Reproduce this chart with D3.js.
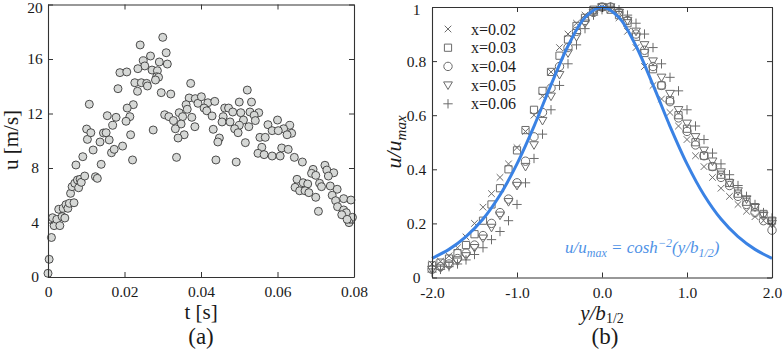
<!DOCTYPE html>
<html>
<head>
<meta charset="utf-8">
<script src="https://cdn.jsdelivr.net/npm/d3@7"></script>
<style>
  body { margin: 0; background: #fff; }
  text { font-family: 'Liberation Serif', 'DejaVu Serif', serif; fill: #1a1a1a; }
</style>
</head>
<body>
<svg id="chart" width="783" height="351"></svg>
<script>
// ---- panel (a): velocity samples [t (s), u (m/s)] ----
const velocitySamples = [
  [0.0000,0.27],[0.0003,1.3],[0.0009,2.9],[0.0012,4.35],[0.0016,3.77],[0.0023,4.23],[0.0028,4.97],
  [0.0031,3.77],[0.0037,4.43],[0.0040,5.04],[0.0044,4.33],[0.0047,5.31],[0.0052,5.04],[0.0056,5.41],
  [0.0059,6.14],[0.0063,6.63],[0.0068,5.45],[0.0070,6.88],[0.0073,8.22],[0.0077,7.12],[0.0080,6.55],
  [0.0084,7.17],[0.0087,6.95],[0.0091,8.83],[0.0096,7.41],[0.0101,10.86],[0.0103,10.1],[0.0108,12.68],
  [0.0112,10.59],[0.0118,9.32],[0.0124,7.36],[0.0129,7.24],[0.0136,9.91],[0.0139,8.27],[0.0145,10.57],
  [0.0152,10.59],[0.0155,11.84],[0.0160,10.06],[0.0166,9.12],[0.0169,11.13],[0.0173,9.37],[0.0178,11.72],
  [0.0183,13.82],[0.0188,15.0],[0.0195,9.61],
  [0.0300,17.59],[0.0241,17.03],[0.0309,16.46],[0.0268,16.22],[0.0249,15.87],[0.0291,15.78],[0.0312,15.63],
  [0.0253,15.49],[0.0235,15.29],[0.0272,15.19],[0.0286,15.14],[0.0206,15.05],[0.0284,14.7],[0.0289,14.66],
  [0.0281,14.46],[0.0227,14.26],[0.0244,14.26],[0.0258,14.21],[0.0260,14.02],[0.0234,13.63],[0.0296,13.53],
  [0.0321,13.43],[0.0373,14.21],[0.0369,13.14],[0.0385,13.09],[0.0361,12.65],[0.0392,12.75],[0.0223,12.65],
  [0.0207,12.4],[0.0214,11.77],[0.0204,11.43],[0.0305,11.91],[0.0343,12.06],[0.0316,11.77],[0.0352,11.77],
  [0.0364,12.31],[0.0328,11.48],[0.0376,11.72],[0.0348,11.23],[0.0333,10.88],[0.0384,11.03],[0.0275,10.79],
  [0.0216,10.44],[0.0356,10.44],[0.0340,10.2],[0.0221,8.59],[0.0336,8.78],
  [0.0521,13.72],[0.0401,13.23],[0.0500,12.84],[0.0532,12.84],[0.0418,12.79],[0.0436,12.89],[0.0408,12.40],
  [0.0462,12.40],[0.0472,12.40],[0.0415,12.2],[0.0483,12.11],[0.0504,12.06],[0.0528,12.11],[0.0551,12.06],
  [0.0429,11.82],[0.0539,11.87],[0.0458,11.77],[0.0511,11.52],[0.0542,11.48],[0.0455,11.38],[0.0476,11.38],
  [0.0525,11.03],[0.0500,11.13],[0.0488,10.88],[0.0575,11.18],[0.0586,10.74],[0.0432,10.84],[0.0497,10.59],
  [0.0554,10.25],[0.0568,10.25],[0.0448,10.2],[0.0444,9.91],[0.0516,9.86],[0.0559,9.52],[0.0549,9.08],
  [0.0565,8.98],[0.0586,8.88],[0.0439,8.59],[0.0492,8.44],
  [0.0600,11.52],[0.0632,11.13],[0.0616,10.88],[0.0602,10.74],[0.0637,10.55],[0.0625,10.44],[0.0611,9.47],
  [0.0628,9.37],[0.0607,8.88],[0.0644,8.78],[0.0665,8.44],[0.0724,8.2],[0.0693,7.9],[0.0729,7.85],
  [0.0747,7.65],[0.0689,7.61],[0.0700,7.46],[0.0733,7.41],[0.0651,7.17],[0.0667,6.92],[0.0679,6.83],
  [0.0710,6.88],[0.0715,6.63],[0.0738,6.68],[0.0646,6.58],[0.0658,6.33],[0.0672,6.33],[0.0682,6.19],
  [0.0756,6.44],[0.0743,6.0],[0.0700,5.85],[0.0773,5.75],[0.0792,5.65],[0.0752,5.6],[0.0757,5.16],
  [0.0707,4.82],[0.0773,4.92],[0.0780,4.72],[0.0768,4.57],[0.0796,4.38],[0.0787,3.99],[0.0782,4.23]
];
const timeTicks = [0, 0.02, 0.04, 0.06, 0.08];
const timeTickLabels = ['0', '0.02', '0.04', '0.06', '0.08'];
const speedTicks = [0, 4, 8, 12, 16, 20];

// ---- panel (b): normalised profiles ----
const etaGrid = [-2.0,-1.9,-1.8,-1.7,-1.6,-1.5,-1.4,-1.3,-1.2,-1.1,-1.0,-0.9,-0.8,-0.7,-0.6,-0.5,-0.4,-0.3,-0.2,-0.1,
  0.0,0.1,0.2,0.3,0.4,0.5,0.6,0.7,0.8,0.9,1.0,1.1,1.2,1.3,1.4,1.5,1.6,1.7,1.8,1.9,2.0];
const profileX002 = [0.05,0.06,0.08,0.11,0.15,0.20,0.26,0.31,0.37,0.42,0.48,0.54,0.60,0.67,0.76,0.85,0.90,0.94,0.97,0.99,
  1.00,0.99,0.96,0.91,0.85,0.78,0.71,0.66,0.61,0.56,0.51,0.45,0.41,0.37,0.33,0.30,0.27,0.245,0.225,0.21,0.20];
const profileX003 = [0.045,0.055,0.07,0.09,0.12,0.16,0.21,0.27,0.33,0.40,0.47,0.545,0.62,0.69,0.76,0.82,0.88,0.93,0.96,0.99,
  1.00,0.99,0.97,0.94,0.89,0.83,0.77,0.71,0.655,0.60,0.55,0.50,0.45,0.41,0.38,0.35,0.31,0.28,0.26,0.235,0.21];
const profileX004 = [0.03,0.04,0.05,0.07,0.09,0.12,0.155,0.20,0.24,0.29,0.35,0.43,0.52,0.61,0.70,0.78,0.85,0.91,0.95,0.98,
  1.00,1.00,0.98,0.95,0.90,0.84,0.78,0.71,0.65,0.59,0.54,0.49,0.45,0.41,0.37,0.34,0.30,0.27,0.24,0.21,0.175];
const profileX005 = [0.03,0.035,0.045,0.06,0.08,0.11,0.145,0.185,0.23,0.28,0.34,0.41,0.49,0.58,0.67,0.75,0.83,0.89,0.94,0.98,
  1.00,1.00,0.98,0.95,0.91,0.86,0.80,0.74,0.68,0.62,0.57,0.52,0.47,0.43,0.39,0.35,0.32,0.29,0.26,0.23,0.20];
const profileX006 = [0.02,0.03,0.04,0.05,0.065,0.085,0.11,0.14,0.17,0.21,0.27,0.35,0.44,0.53,0.62,0.71,0.79,0.86,0.92,0.97,
  0.99,1.00,0.99,0.97,0.94,0.90,0.85,0.79,0.74,0.69,0.62,0.56,0.51,0.46,0.42,0.38,0.34,0.30,0.27,0.24,0.22];
const seriesNames = ['x=0.02', 'x=0.03', 'x=0.04', 'x=0.05', 'x=0.06'];
const seriesMarkers = ['times', 'square', 'circle', 'triangleDown', 'plus'];

// cosh^-2 reference curve
const fitEta = [-2.0,-1.8,-1.6,-1.4,-1.2,-1.0,-0.8,-0.6,-0.4,-0.2,0.0,0.2,0.4,0.6,0.8,1.0,1.2,1.4,1.6,1.8,2.0];
const fitValue = [0.071,0.104,0.151,0.216,0.305,0.420,0.559,0.712,0.856,0.961,1.0,
  0.961,0.856,0.712,0.559,0.420,0.305,0.216,0.151,0.104,0.071];

const etaTicks = [-2, -1, 0, 1, 2];
const etaTickLabels = ['-2.0', '-1.0', '0.0', '1.0', '2.0'];
const ratioTicks = [0, 0.2, 0.4, 0.6, 0.8, 1];
const ratioTickLabels = ['0', '0.2', '0.4', '0.6', '0.8', '1'];

const svg = d3.select('#chart');
const axisColor = '#333';
const tickFont = '15.5px';

// draws a boxed frame with inward ticks on all four sides;
// y tick labels are centred in a column at labelX
function drawFrame(x, y, xTicks, xLabels, yTicks, yLabels, labelX) {
  const [x0, x1] = x.range();
  const [y0, y1] = y.range();
  const g = svg.append('g');

  g.append('g')
    .attr('transform', `translate(0,${y0})`)
    .call(d3.axisBottom(x).tickValues(xTicks).tickSizeInner(-5).tickSizeOuter(0)
      .tickPadding(9).tickFormat((d, i) => xLabels[i]));
  g.append('g')
    .attr('transform', `translate(0,${y1})`)
    .call(d3.axisTop(x).tickValues(xTicks).tickSizeInner(-5).tickSizeOuter(0).tickFormat(''));
  const left = g.append('g')
    .attr('transform', `translate(${x0},0)`)
    .call(d3.axisLeft(y).tickValues(yTicks).tickSizeInner(-5).tickSizeOuter(0)
      .tickFormat((d, i) => yLabels[i]));
  // centre the labels; nudge the topmost one so it stays inside the page
  left.selectAll('.tick text')
    .attr('x', labelX - x0)
    .attr('text-anchor', 'middle')
    .attr('dy', (d, i) => i === yTicks.length - 1 ? '0.5em' : '0.32em');
  g.append('g')
    .attr('transform', `translate(${x1},0)`)
    .call(d3.axisRight(y).tickValues(yTicks).tickSizeInner(-5).tickSizeOuter(0).tickFormat(''));

  g.selectAll('.domain').attr('stroke', axisColor).attr('stroke-width', 1.1);
  g.selectAll('.tick line').attr('stroke', axisColor).attr('stroke-width', 1);
  g.selectAll('.tick text')
    .attr('font-family', "'Liberation Serif', serif")
    .attr('font-size', tickFont)
    .attr('fill', '#1a1a1a');
  return g;
}

// ---------- panel (a) ----------
const xA = d3.scaleLinear().domain([0, 0.08]).range([48, 354]);
const yA = d3.scaleLinear().domain([0, 20]).range([277, 4.5]);

svg.append('g')
  .selectAll('circle')
  .data(velocitySamples)
  .enter()
  .append('circle')
  .attr('cx', d => xA(d[0]))
  .attr('cy', d => yA(d[1]))
  .attr('r', 4)
  .attr('fill', '#d6d8d6')
  .attr('stroke', '#3a3a3a')
  .attr('stroke-width', 0.9);

drawFrame(xA, yA, timeTicks, timeTickLabels, speedTicks, speedTicks.map(String), 35);

svg.append('text')
  .attr('transform', 'translate(18,140) rotate(-90)')
  .attr('text-anchor', 'middle')
  .attr('font-size', '21px')
  .text('u [m/s]');

svg.append('text')
  .attr('x', 201).attr('y', 319)
  .attr('text-anchor', 'middle')
  .attr('font-size', '21px')
  .text('t [s]');

svg.append('text')
  .attr('x', 201).attr('y', 344)
  .attr('text-anchor', 'middle')
  .attr('font-size', '23px')
  .text('(a)');

// ---------- panel (b) ----------
const xB = d3.scaleLinear().domain([-2, 2]).range([432, 772]);
const yB = d3.scaleLinear().domain([0, 1]).range([277.5, 7]);

const markerPath = {
  times: h => `M${-h},${-h}L${h},${h}M${-h},${h}L${h},${-h}`,
  square: h => `M${-h},${-h}H${h}V${h}H${-h}Z`,
  circle: h => `M${-h},0A${h},${h} 0 1,0 ${h},0A${h},${h} 0 1,0 ${-h},0Z`,
  triangleDown: h => `M${-h * 1.1},${-h * 0.8}L${h * 1.1},${-h * 0.8}L0,${h * 1.1}Z`,
  plus: h => `M${-h * 1.3},0H${h * 1.3}M0,${-h * 1.3}V${h * 1.3}`
};
const markerSize = { times: 3.3, square: 3.6, circle: 4.2, triangleDown: 4, plus: 3.6 };
const markerColor = '#6b6b6b';

const profiles = [profileX002, profileX003, profileX004, profileX005, profileX006];
profiles.forEach((values, si) => {
  const kind = seriesMarkers[si];
  svg.append('g')
    .selectAll('path')
    .data(values)
    .enter()
    .append('path')
    .attr('transform', (d, i) => `translate(${xB(etaGrid[i])},${yB(d)})`)
    .attr('d', markerPath[kind](markerSize[kind]))
    .attr('fill', 'none')
    .attr('stroke', markerColor)
    .attr('stroke-width', 1);
});

// blue cosh^-2 curve
const fitLine = d3.line()
  .x((d, i) => xB(fitEta[i]))
  .y(d => yB(d))
  .curve(d3.curveCatmullRom);

svg.append('path')
  .datum(fitValue)
  .attr('fill', 'none')
  .attr('stroke', '#3a82e4')
  .attr('stroke-width', 3)
  .attr('d', fitLine);

drawFrame(xB, yB, etaTicks, etaTickLabels, ratioTicks, ratioTickLabels, 416.5);

// legend
const legend = svg.append('g');
seriesNames.forEach((name, i) => {
  const ly = 29 + i * 18.7;
  const kind = seriesMarkers[i];
  legend.append('path')
    .attr('transform', `translate(448,${ly})`)
    .attr('d', markerPath[kind](markerSize[kind]))
    .attr('fill', 'none')
    .attr('stroke', markerColor)
    .attr('stroke-width', 1);
  legend.append('text')
    .attr('x', 471).attr('y', ly + 5.5)
    .attr('font-size', '16px')
    .text(name);
});

// formula annotation
const formula = svg.append('text')
  .attr('x', 565).attr('y', 253)
  .attr('font-size', '17px')
  .attr('font-style', 'italic')
  .style('fill', '#4f92e6');
formula.append('tspan').text('u/u');
formula.append('tspan').attr('dy', 4).attr('font-size', '12px').text('max');
formula.append('tspan').attr('dy', -4).text(' = cosh');
formula.append('tspan').attr('dy', -6).attr('font-size', '12px').text('−2');
formula.append('tspan').attr('dy', 6).text('(y/b');
formula.append('tspan').attr('dy', 4).attr('font-size', '12px').text('1/2');
formula.append('tspan').attr('dy', -4).text(')');

// axis titles
const yTitle = svg.append('text')
  .attr('transform', 'translate(401,142) rotate(-90)')
  .attr('text-anchor', 'middle')
  .attr('font-size', '22px')
  .attr('font-style', 'italic');
yTitle.append('tspan').text('u/u');
yTitle.append('tspan').attr('dy', 5).attr('font-size', '15px').text('max');

const xTitle = svg.append('text')
  .attr('x', 602).attr('y', 320)
  .attr('text-anchor', 'middle')
  .attr('font-size', '21px')
  .attr('font-style', 'italic');
xTitle.append('tspan').text('y/b');
xTitle.append('tspan').attr('dy', 3).attr('font-size', '14px').attr('font-style', 'normal').text('1/2');

svg.append('text')
  .attr('x', 605).attr('y', 344)
  .attr('text-anchor', 'middle')
  .attr('font-size', '23px')
  .text('(b)');
</script>
</body>
</html>
